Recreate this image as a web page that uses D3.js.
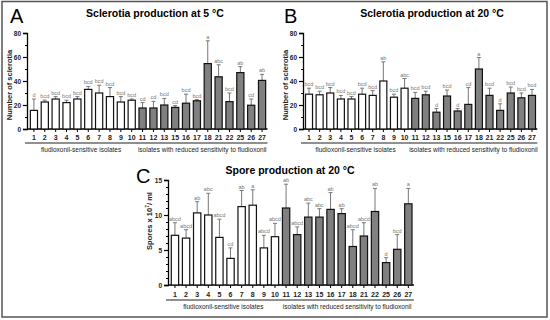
<!DOCTYPE html>
<html>
<head>
<meta charset="utf-8">
<script src="https://cdn.jsdelivr.net/npm/d3@7"></script>
<style>
  body { margin: 0; background: #fff; }
  svg text { font-family: "Liberation Sans", Arial, sans-serif; }
</style>
</head>
<body>
<script>
// isolates shown on every panel (14, 19, 20, 23, 24 not tested)
var isolates = ["1","2","3","4","5","6","7","8","9","10","11","12","13","15","16","17","18","21","22","25","26","27"];
var nSensitive = 10; // first 10 are fludioxonil-sensitive (white bars)

// A: sclerotia at 5 C
var scl5 = [15.5, 22.5, 25, 22, 25, 33, 30, 27, 22.5, 24, 17.5, 17.5, 20, 18, 21.5, 23.5, 54.5, 43.5, 22.8, 47, 19.8, 40.5];
var scl5Err = [25, 24, 27, 24, 27, 35.5, 36.5, 34.5, 27, 25, 22, 23, 25.5, 19.5, 29, 24.5, 73.5, 53.5, 30, 52, 25, 45.5];
var scl5Lab = ["d","bcd","bcd","bcd","bcd","bcd","bcd","bcd","bcd","bcd","cd","cd","bcd","cd","bcd","bcd","a","abc","bcd","ab","cd","ab"];

// B: sclerotia at 20 C
var scl20 = [29, 28.5, 30, 25, 25, 29, 28, 40, 26.5, 34, 25.5, 28.5, 14, 27.5, 15, 20.5, 50, 28, 15.5, 30, 26, 28];
var scl20Err = [34, 31.5, 34.5, 28, 27, 34, 32, 56, 29, 42, 30.5, 31.5, 17, 32.5, 17, 34.5, 59.5, 34, 21, 35, 30, 33];
var scl20Lab = ["bcd","bcd","bcd","bcd","bcd","bcd","bcd","ab","bcd","abc","bcd","bcd","d","bcd","d","cd","a","bcd","d","bcd","bcd","bcd"];

// C: spores at 20 C (x 10^7 / ml)
var spores = [7.1, 6.7, 10.3, 10, 6.8, 3.8, 11.2, 11.4, 5.3, 6.9, 11, 7.2, 9.7, 9.7, 10.8, 10.2, 5.5, 7, 10.5, 3.2, 5.1, 11.6];
var sporesErr = [8.9, 7.9, 11.9, 13.1, 9.4, 5.3, 13.5, 13.6, 7.1, 8.8, 14.4, 8.3, 11.7, 10.9, 13.2, 10.9, 7.9, 8.9, 13.8, 3.9, 7.2, 13.8];
var sporesLab = ["abcd","abcd","ab","abc","abcd","cd","ab","a","abcd","abcd","ab","abcd","abc","abc","ab","ab","abcd","abcd","ab","d","bcd","a"];

var yTicksScl = [0, 20, 40, 60, 80];
var yTicksSpores = [0, 5, 10, 15];
var groupNames = ["fludioxonil-sensitive  isolates", "isolates with  reduced  sensitivity  to  fludioxonil"];

var W = 550, H = 320;
var svg = d3.select("body").append("svg")
  .attr("width", W)
  .attr("height", H);

// outer frame
svg.append("rect")
  .attr("x", 2).attr("y", 1.5)
  .attr("width", 545).attr("height", 315.5)
  .attr("fill", "none")
  .attr("stroke", "#555")
  .attr("stroke-width", 1.5);

function panel(opt) {
  var g = svg.append("g");
  var x = d3.scaleBand().domain(isolates).range(opt.xr).paddingInner(0.34).paddingOuter(0.17);
  var y = d3.scaleLinear().domain(opt.dom).range(opt.yr);

  g.append("text")
    .attr("x", opt.letter[0]).attr("y", opt.letter[1])
    .attr("font-size", 20)
    .text(opt.name);

  g.append("text")
    .attr("x", opt.titleX).attr("y", opt.titleY)
    .attr("text-anchor", "middle")
    .attr("font-size", 10.5)
    .attr("font-weight", "bold")
    .text(opt.title);

  // y axis
  var yAxis = d3.axisLeft(y).tickValues(opt.ticks).tickSize(4).tickPadding(2);
  var ya = g.append("g").attr("transform", "translate(" + opt.axisX + ",0)").call(yAxis);
  ya.select(".domain").attr("stroke-width", 1.3);
  ya.selectAll("text").attr("font-size", 6.5).attr("font-weight", "bold").attr("fill", "#222");
  ya.selectAll(".tick line").attr("stroke-width", 1.2);
  g.append("g")
    .attr("transform", "translate(" + opt.axisX + ",0)")
    .call(d3.axisLeft(y).tickValues(opt.minor).tickSize(2).tickFormat(""))
    .select(".domain").remove();

  var yl = g.append("text")
    .attr("transform", "translate(" + opt.ylabX + "," + opt.ylabY + ") rotate(-90)")
    .attr("text-anchor", "middle")
    .attr("font-size", 7.5)
    .attr("font-weight", "bold")
    .attr("fill", "#222");
  if (opt.ylab) yl.text(opt.ylab);
  else {
    yl.append("tspan").text("Spores x 10");
    yl.append("tspan").attr("dy", -3).attr("font-size", 5).text("7");
    yl.append("tspan").attr("dy", 3).text("/ ml");
  }

  // x axis
  var y0 = y(0);
  g.append("line")
    .attr("x1", opt.axisX).attr("x2", opt.xr[1])
    .attr("y1", y0).attr("y2", y0)
    .attr("stroke", "#000").attr("stroke-width", 1.3);

  var rows = isolates.map(function(d, i) {
    return { id: d, v: opt.vals[i], e: opt.err[i], lab: opt.labs[i], sens: i < nSensitive };
  });

  g.selectAll(".xt").data(rows).enter().append("line")
    .attr("x1", function(d) { return x(d.id) + x.bandwidth() / 2; })
    .attr("x2", function(d) { return x(d.id) + x.bandwidth() / 2; })
    .attr("y1", y0).attr("y2", y0 + 3)
    .attr("stroke", "#000").attr("stroke-width", 1);

  g.selectAll(".xl").data(rows).enter().append("text")
    .attr("x", function(d) { return x(d.id) + x.bandwidth() / 2; })
    .attr("y", y0 + opt.xlabDy)
    .attr("text-anchor", "middle")
    .attr("font-size", 7)
    .attr("font-weight", "bold")
    .attr("fill", "#222")
    .text(function(d) { return d.id; });

  // error bars (upper only)
  g.selectAll(".err").data(rows).enter().append("path")
    .attr("d", function(d) {
      var cx = x(d.id) + x.bandwidth() / 2;
      return "M" + cx + "," + y(d.v) + "V" + y(d.e) + "M" + (cx - 2) + "," + y(d.e) + "H" + (cx + 2);
    })
    .attr("fill", "none")
    .attr("stroke", "#777")
    .attr("stroke-width", 1);

  g.selectAll(".bar").data(rows).enter().append("rect")
    .attr("x", function(d) { return x(d.id); })
    .attr("y", function(d) { return y(d.v); })
    .attr("width", x.bandwidth())
    .attr("height", function(d) { return y0 - y(d.v); })
    .attr("fill", function(d) { return d.sens ? "#fff" : "#808080"; })
    .attr("stroke", "#111")
    .attr("stroke-width", 1.2);

  g.selectAll(".sig").data(rows).enter().append("text")
    .attr("x", function(d) { return x(d.id) + x.bandwidth() / 2; })
    .attr("y", function(d) { return y(d.e) - 2; })
    .attr("text-anchor", "middle")
    .attr("font-size", 5.5)
    .attr("fill", "#777")
    .text(function(d) { return d.lab; });

  // group brackets
  var gx = [[opt.axisX - 2, x(isolates[nSensitive - 1]) + x.bandwidth() + 2],
            [x(isolates[nSensitive]) - 2, opt.xr[1]]];
  gx.forEach(function(r, i) {
    g.append("line")
      .attr("x1", r[0]).attr("x2", r[1])
      .attr("y1", opt.groupY).attr("y2", opt.groupY)
      .attr("stroke", "#222").attr("stroke-width", 1.2);
    g.append("text")
      .attr("x", (r[0] + r[1]) / 2).attr("y", opt.groupY + 9)
      .attr("text-anchor", "middle")
      .attr("font-size", 6.5)
      .attr("fill", "#222")
      .text(groupNames[i]);
  });
}

panel({
  name: "A", letter: [10, 23], title: "Sclerotia production  at 5 \u00b0C", titleX: 155, titleY: 17,
  xr: [28.5, 267.5], axisX: 27, dom: [0, 80], yr: [129, 33], ticks: yTicksScl, minor: [10, 30, 50, 70],
  ylab: "Number of sclerotia", ylabX: 12, ylabY: 85, xlabDy: 11, groupY: 143,
  vals: scl5, err: scl5Err, labs: scl5Lab
});

panel({
  name: "B", letter: [284, 23], title: "Sclerotia production  at 20 \u00b0C", titleX: 432, titleY: 17,
  xr: [303.7, 537.3], axisX: 303, dom: [0, 80], yr: [129, 33], ticks: yTicksScl, minor: [10, 30, 50, 70],
  ylab: "Number of sclerotia", ylabX: 288, ylabY: 85, xlabDy: 11, groupY: 143,
  vals: scl20, err: scl20Err, labs: scl20Lab
});

panel({
  name: "C", letter: [136, 183], title: "Spore production  at 20 \u00b0C", titleX: 290, titleY: 174,
  xr: [169.4, 413.9], axisX: 168, dom: [0, 15], yr: [285, 180], ticks: yTicksSpores,
  minor: [1, 2, 3, 4, 6, 7, 8, 9, 11, 12, 13, 14],
  ylab: null, ylabX: 152, ylabY: 221, xlabDy: 12, groupY: 300,
  vals: spores, err: sporesErr, labs: sporesLab
});
</script>
</body>
</html>
